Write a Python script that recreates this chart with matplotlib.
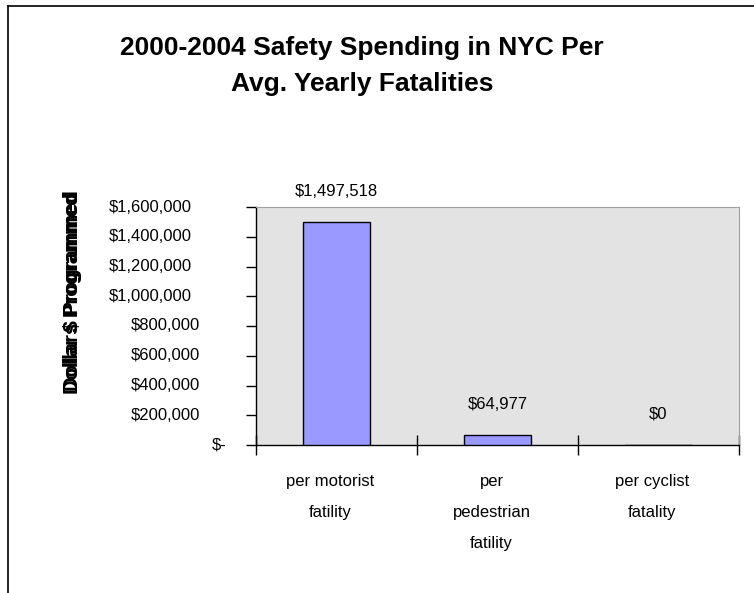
import matplotlib
matplotlib.use("Agg")
import matplotlib.pyplot as plt
from matplotlib.lines import Line2D
from matplotlib.transforms import ScaledTranslation

plt.rcParams["font.family"] = ["Liberation Sans", "DejaVu Sans"]

# --- data ---
categories = ["per motorist\nfatility", "per\npedestrian\nfatility", "per cyclist\nfatality"]
spending = [1497518, 64977, 0]
value_labels = ["$1,497,518", "$64,977", "$0"]
y_ticks = [0, 200000, 400000, 600000, 800000, 1000000, 1200000, 1400000, 1600000]
y_tick_labels = ["$-", "$200,000", "$400,000", "$600,000", "$800,000",
                 "$1,000,000", "$1,200,000", "$1,400,000", "$1,600,000"]
title = "2000-2004 Safety Spending in NYC Per\nAvg. Yearly Fatalities"

W, H = 754, 593
fig = plt.figure(figsize=(W / 100, H / 100), dpi=100)

# outer chart border (top + left only visible)
fig.add_artist(Line2D([8 / W, 1], [1 - 6 / H, 1 - 6 / H], color="black", lw=1.2))
fig.add_artist(Line2D([8 / W, 8 / W], [0, 1 - 6 / H], color="black", lw=1.2))

ax = fig.add_axes([256 / W, 148 / H, 483 / W, 238 / H])
ax.set_facecolor("#e3e3e3")

x = list(range(len(categories)))
ax.bar(x, spending, width=0.41, color="#9999ff", edgecolor="black", linewidth=1, zorder=3)

ax.set_xlim(-0.5, len(categories) - 0.5)
ax.set_ylim(0, 1600000)

# frame
for side in ["top", "right"]:
    ax.spines[side].set_color("#a0a0a0")
for side in ["left", "bottom"]:
    ax.spines[side].set_color("black")
    ax.spines[side].set_linewidth(1)

# y ticks, labels drawn by hand to mimic accounting format alignment
ax.set_yticks(y_ticks)
ax.set_yticklabels([])
ax.tick_params(axis="y", direction="out", length=7, width=1)
ytrans = ax.get_yaxis_transform()
for val, lab in zip(y_ticks, y_tick_labels):
    if val == 0:
        dx = -29
    elif val >= 1000000:
        dx = -64
    else:
        dx = -56
    off = ScaledTranslation(dx / 100, 0, fig.dpi_scale_trans)
    ax.text(0, val, lab, transform=ytrans + off, ha="right", va="center", fontsize=12)

# category separators crossing the axis
ax.set_xticks([i - 0.5 for i in range(len(categories) + 1)])
ax.set_xticklabels([])
ax.tick_params(axis="x", direction="inout", length=14, width=1)

xtrans = ax.get_xaxis_transform()
for i, cat in enumerate(categories):
    off = ScaledTranslation(-6 / 100, -29 / 100, fig.dpi_scale_trans)
    ax.text(i, 0, cat, transform=xtrans + off, ha="center", va="top",
            fontsize=12, linespacing=2.35, multialignment="center")

# value labels
for i, (v, lab) in enumerate(zip(spending, value_labels)):
    ax.annotate(lab, (i, v), xytext=(0, 22), textcoords="offset points",
                ha="center", va="center", fontsize=12)

# y axis title (overlapping in the original)
fig.text(72 / W, 1 - 292 / H, "Dollars Programmed", rotation=90, ha="center",
         va="center", fontsize=14.5, fontweight="bold")
fig.text(72 / W, 1 - 292 / H, "Dollar $ Programmed", rotation=90, ha="center",
         va="center", fontsize=14.5, fontweight="bold")

fig.text(362 / W, 1 - 66 / H, title, ha="center", va="center", fontsize=19,
         fontweight="bold", linespacing=1.65)

fig.savefig("out.png", dpi=100)
